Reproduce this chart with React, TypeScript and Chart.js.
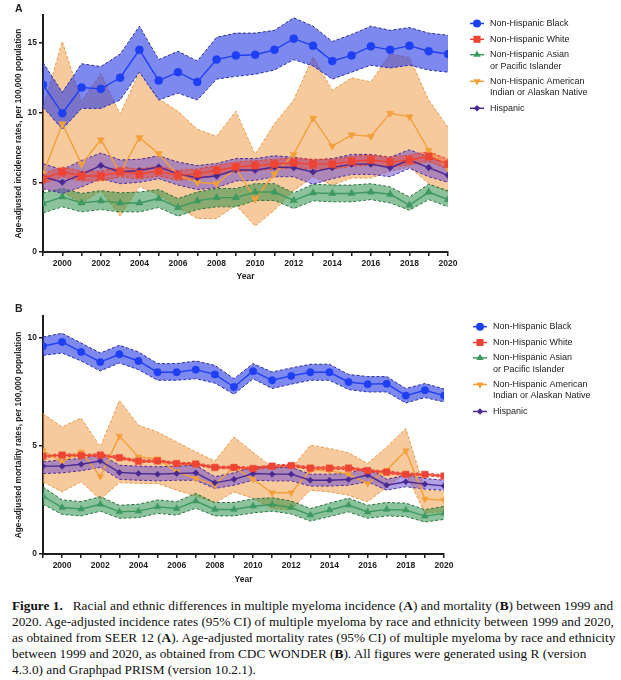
import React, { useEffect, useRef } from "react";
import { Chart, registerables } from "chart.js";

Chart.register(...registerables);

// ---------- data ----------
const YEARS = [1999, 2000, 2001, 2002, 2003, 2004, 2005, 2006, 2007, 2008, 2009, 2010, 2011, 2012, 2013, 2014, 2015, 2016, 2017, 2018, 2019, 2020];

const GROUPS = [
  "Non-Hispanic Black",
  "Non-Hispanic White",
  "Non-Hispanic Asian\nor Pacific Islander",
  "Non-Hispanic American\nIndian or Alaskan Native",
  "Hispanic",
];

// Panel A: incidence
const A_BLACK = [12.0, 9.95, 11.8, 11.7, 12.5, 14.5, 12.3, 12.9, 12.2, 13.8, 14.1, 14.15, 14.5, 15.3, 14.8, 13.7, 14.1, 14.75, 14.5, 14.8, 14.4, 14.2];
const A_BLACK_HI = [13.6, 11.45, 13.5, 13.3, 14.2, 16.2, 13.8, 14.4, 13.7, 15.4, 15.7, 15.7, 15.9, 16.8, 16.2, 15.1, 15.6, 16.2, 15.9, 16.1, 15.7, 15.55];
const A_BLACK_LO = [10.4, 8.8, 10.3, 10.3, 10.9, 12.9, 10.9, 11.4, 10.9, 12.4, 12.6, 12.75, 13.05, 13.8, 13.35, 12.4, 12.9, 13.4, 13.2, 13.4, 13.05, 12.9];

const A_WHITE = [5.25, 5.75, 5.45, 5.45, 5.75, 5.6, 5.8, 5.5, 5.6, 5.85, 6.1, 6.2, 6.3, 6.4, 6.3, 6.3, 6.5, 6.6, 6.45, 6.6, 6.85, 6.3];
const A_WHITE_HI = [5.6, 6.1, 5.8, 5.8, 6.1, 5.95, 6.15, 5.85, 5.95, 6.2, 6.45, 6.55, 6.65, 6.75, 6.65, 6.65, 6.85, 6.95, 6.8, 6.95, 7.2, 6.65];
const A_WHITE_LO = [4.9, 5.4, 5.1, 5.1, 5.4, 5.25, 5.45, 5.15, 5.25, 5.5, 5.75, 5.85, 5.95, 6.05, 5.95, 5.95, 6.15, 6.25, 6.1, 6.25, 6.5, 5.95];

const A_ASIAN = [3.48, 3.95, 3.52, 3.67, 3.52, 3.52, 3.83, 3.19, 3.67, 3.9, 3.9, 4.3, 4.3, 3.7, 4.24, 4.2, 4.2, 4.3, 4.14, 3.36, 4.3, 3.76];
const A_ASIAN_HI = [4.24, 4.55, 4.2, 4.4, 4.24, 4.3, 4.48, 3.83, 4.3, 4.55, 4.55, 4.9, 4.9, 4.24, 4.86, 4.8, 4.8, 4.9, 4.67, 3.95, 4.86, 4.4];
const A_ASIAN_LO = [2.8, 3.24, 2.88, 3.05, 2.88, 2.88, 3.19, 2.57, 3.05, 3.24, 3.24, 3.7, 3.7, 3.12, 3.67, 3.6, 3.6, 3.76, 3.52, 3.0, 3.76, 3.24];

const A_AIAN = [5.6, 9.2, 6.3, 8.05, 5.7, 8.2, 7.05, 5.5, 5.0, 4.9, 6.0, 3.8, 5.6, 7.0, 9.6, 7.6, 8.4, 8.3, 9.95, 9.7, 7.3, 6.0];
const A_AIAN_HI = [10.3, 15.1, 10.8, 12.8, 9.9, 12.9, 11.0, 10.1, 8.8, 8.3, 10.1, 7.0, 9.2, 10.9, 14.0, 11.6, 12.5, 12.2, 14.2, 13.95, 10.9, 8.95];
const A_AIAN_LO = [4.5, 4.3, 3.5, 4.4, 2.57, 4.7, 4.1, 3.2, 2.4, 2.4, 3.35, 1.86, 3.0, 4.4, 5.4, 4.8, 5.3, 5.3, 5.8, 6.1, 4.9, 4.3];

const A_HISP = [5.4, 5.0, 5.57, 6.2, 5.74, 5.85, 6.1, 5.6, 5.33, 5.45, 5.9, 5.86, 6.1, 6.05, 5.74, 6.05, 6.3, 6.3, 6.05, 6.6, 6.05, 5.5];
const A_HISP_HI = [6.33, 5.9, 6.57, 7.1, 6.6, 6.65, 6.9, 6.45, 6.2, 6.35, 6.7, 6.7, 6.9, 6.8, 6.6, 6.7, 7.0, 7.0, 6.8, 7.33, 6.8, 6.3];
const A_HISP_LO = [4.55, 4.2, 4.67, 5.26, 4.9, 5.0, 5.26, 4.8, 4.48, 4.6, 5.1, 5.14, 5.4, 5.4, 4.86, 5.26, 5.57, 5.57, 5.4, 6.0, 5.4, 5.0];

// Panel B: mortality
const B_BLACK = [9.6, 9.8, 9.34, 8.87, 9.23, 8.92, 8.4, 8.4, 8.52, 8.3, 7.72, 8.45, 8.03, 8.23, 8.4, 8.4, 7.95, 7.85, 7.87, 7.32, 7.57, 7.32];
const B_BLACK_HI = [10.03, 10.2, 9.75, 9.29, 9.65, 9.34, 8.8, 8.8, 8.92, 8.72, 8.1, 8.8, 8.41, 8.6, 8.77, 8.77, 8.3, 8.2, 8.2, 7.65, 7.88, 7.63];
const B_BLACK_LO = [9.18, 9.29, 8.92, 8.46, 8.83, 8.52, 8.03, 8.03, 8.1, 7.9, 7.38, 8.1, 7.65, 7.85, 8.03, 8.03, 7.6, 7.49, 7.49, 6.98, 7.23, 7.03];

const B_WHITE = [4.52, 4.57, 4.55, 4.57, 4.45, 4.29, 4.3, 4.18, 4.16, 4.0, 4.0, 3.95, 4.06, 4.09, 3.97, 3.97, 3.97, 3.85, 3.78, 3.68, 3.68, 3.6];
const B_WHITE_HI = [4.58, 4.63, 4.61, 4.63, 4.51, 4.35, 4.36, 4.24, 4.22, 4.06, 4.06, 4.01, 4.12, 4.15, 4.03, 4.03, 4.03, 3.91, 3.84, 3.74, 3.74, 3.66];
const B_WHITE_LO = [4.46, 4.51, 4.49, 4.51, 4.39, 4.23, 4.24, 4.12, 4.1, 3.94, 3.94, 3.89, 4.0, 4.03, 3.91, 3.91, 3.91, 3.79, 3.72, 3.62, 3.62, 3.54];

const B_ASIAN = [2.68, 2.15, 2.08, 2.3, 1.95, 1.98, 2.18, 2.1, 2.45, 2.06, 2.06, 2.21, 2.29, 2.15, 1.8, 2.03, 2.26, 1.94, 2.06, 2.03, 1.75, 1.88];
const B_ASIAN_HI = [3.1, 2.5, 2.42, 2.65, 2.25, 2.3, 2.5, 2.42, 2.8, 2.38, 2.38, 2.55, 2.6, 2.45, 2.1, 2.35, 2.58, 2.25, 2.38, 2.35, 2.05, 2.2];
const B_ASIAN_LO = [2.3, 1.83, 1.76, 1.98, 1.65, 1.68, 1.88, 1.8, 2.12, 1.76, 1.76, 1.9, 1.98, 1.85, 1.52, 1.73, 1.95, 1.65, 1.76, 1.73, 1.48, 1.6];

const B_AIAN = [4.77, 4.26, 4.72, 3.57, 5.45, 4.49, 4.4, 3.8, 3.49, 3.2, 4.03, 3.45, 2.83, 2.83, 3.88, 3.85, 3.69, 3.26, 3.88, 4.77, 2.54, 2.49];
const B_AIAN_HI = [6.49, 5.87, 6.29, 4.95, 7.1, 5.95, 5.64, 5.18, 4.72, 4.3, 5.41, 4.7, 4.0, 3.95, 5.03, 4.88, 4.68, 4.18, 4.95, 5.8, 2.95, 2.9];
const B_AIAN_LO = [3.34, 2.87, 3.34, 2.52, 3.3, 3.26, 3.26, 2.95, 2.68, 2.37, 2.87, 2.57, 2.1, 2.05, 2.95, 2.87, 2.72, 2.41, 3.1, 3.72, 1.9, 1.95];

const B_HISP = [4.06, 4.06, 4.15, 4.3, 3.77, 3.72, 3.69, 3.72, 3.75, 3.29, 3.45, 3.72, 3.69, 3.69, 3.41, 3.41, 3.44, 3.65, 3.18, 3.34, 3.23, 3.15];
const B_HISP_HI = [4.26, 4.35, 4.41, 4.61, 4.1, 4.06, 4.03, 4.06, 4.1, 3.57, 3.75, 4.03, 4.0, 4.0, 3.69, 3.69, 3.72, 4.0, 3.45, 3.65, 3.49, 3.41];
const B_HISP_LO = [3.72, 3.75, 3.85, 4.0, 3.45, 3.41, 3.38, 3.41, 3.41, 3.03, 3.18, 3.41, 3.38, 3.38, 3.14, 3.14, 3.18, 3.34, 2.95, 3.11, 3.0, 2.95];

const A_Y_TICKS = [0, 5, 10, 15];
const B_Y_TICKS = [0, 5, 10];

// ---------- styles ----------
const FONT = "'Liberation Sans', Arial, sans-serif";
const INK = "#1e1e1e";

type Style = { color: string; band: string; dash: string; point: string; rotation: number; r: number };
const STYLES: Style[] = [
  { color: "#1f3ff2", band: "rgba(38,58,228,0.6)", dash: "#2c2a9a", point: "circle", rotation: 0, r: 4 },
  { color: "#ee4433", band: "rgba(238,70,50,0.45)", dash: "#e04030", point: "rect", rotation: 0, r: 5 },
  { color: "#3d9960", band: "rgba(45,145,75,0.55)", dash: "#2d6e40", point: "triangle", rotation: 0, r: 4.2 },
  { color: "#f2a03c", band: "rgba(240,150,60,0.5)", dash: "#e89a48", point: "triangle", rotation: 180, r: 4.2 },
  { color: "#4a2891", band: "rgba(100,70,210,0.5)", dash: "#4a2891", point: "rectRot", rotation: 0, r: 3.3 },
];

type Series = { mean: number[]; hi: number[]; lo: number[] };

function pts(arr: number[]) {
  return arr.map((v, i) => ({ x: YEARS[i], y: v }));
}

function drawMarker(ctx: CanvasRenderingContext2D, st: Style, x: number, y: number) {
  const r = st.r;
  ctx.fillStyle = st.color;
  ctx.beginPath();
  if (st.point === "circle") {
    ctx.arc(x, y, r, 0, Math.PI * 2);
  } else if (st.point === "rect") {
    const s = r * Math.SQRT1_2;
    ctx.rect(x - s, y - s, 2 * s, 2 * s);
  } else if (st.point === "triangle") {
    const dir = st.rotation === 180 ? -1 : 1;
    const h = r;
    ctx.moveTo(x, y - dir * h);
    ctx.lineTo(x + h * 0.866, y + dir * h * 0.5);
    ctx.lineTo(x - h * 0.866, y + dir * h * 0.5);
    ctx.closePath();
  } else {
    ctx.moveTo(x - r, y);
    ctx.lineTo(x, y - r);
    ctx.lineTo(x + r, y);
    ctx.lineTo(x, y + r);
    ctx.closePath();
  }
  ctx.fill();
}

function legendPlugin(lx: number, top: number) {
  const rows = [0, 15.8, 31.2, 57.8, 84.8];
  return {
    id: "customLegend",
    afterDraw(chart: any) {
      const ctx: CanvasRenderingContext2D = chart.ctx;
      ctx.save();
      ctx.font = `9px ${FONT}`;
      ctx.textBaseline = "middle";
      ctx.textAlign = "left";
      GROUPS.forEach((label, i) => {
        const st = STYLES[i];
        const y = top + rows[i];
        ctx.strokeStyle = st.color;
        ctx.lineWidth = 1.5;
        ctx.beginPath();
        ctx.moveTo(lx, y);
        ctx.lineTo(lx + 14, y);
        ctx.stroke();
        drawMarker(ctx, st, lx + 7, y);
        ctx.fillStyle = "#222";
        label.split("\n").forEach((line, k) => {
          ctx.fillText(line, lx + 20, y + k * 11.5);
        });
      });
      ctx.restore();
    },
  };
}

function buildConfig(series: Series[], opts: { yMax: number; yTicks: number[]; yTitle: string; pad: any; xHeight: number; legendX: number; legendTop: number; scale: number }) {
  const meanOrder = [1, 0, 2, 4, 3]; // index into series: White drawn on top
  const datasets: any[] = [];
  meanOrder.forEach((gi) => {
    const st = STYLES[gi];
    datasets.push({
      data: pts(series[gi].mean),
      borderColor: st.color,
      backgroundColor: st.color,
      borderWidth: 1.4,
      pointStyle: st.point,
      rotation: st.rotation,
      pointRadius: st.r * opts.scale,
      pointBorderWidth: 0.5,
      pointBackgroundColor: st.color,
      pointBorderColor: st.color,
      fill: false,
      tension: 0,
    });
  });
  const bandOrder = [0, 1, 4, 2, 3]; // Black band on top, AIAN band at the bottom
  bandOrder.forEach((gi) => {
    const st = STYLES[gi];
    datasets.push({
      data: pts(series[gi].hi),
      borderColor: st.dash,
      borderWidth: 1,
      borderDash: [3, 2],
      pointRadius: 0,
      backgroundColor: st.band,
      fill: "+1",
      tension: 0,
    });
    datasets.push({
      data: pts(series[gi].lo),
      borderColor: st.dash,
      borderWidth: 1,
      borderDash: [3, 2],
      pointRadius: 0,
      fill: false,
      tension: 0,
    });
  });

  const tickFont = { family: FONT, size: 8.5, weight: "bold" as const };
  return {
    type: "line" as const,
    data: { datasets },
    options: {
      animation: false as const,
      responsive: false,
      devicePixelRatio: 1,
      layout: { padding: opts.pad },
      plugins: { legend: { display: false }, tooltip: { enabled: false }, title: { display: false } },
      scales: {
        x: {
          type: "linear" as const,
          min: 1999,
          max: 2020,
          offset: false,
          afterBuildTicks: (s: any) => {
            s.ticks = YEARS.map((v) => ({ value: v }));
          },
          afterFit: (s: any) => {
            s.height = opts.xHeight;
          },
          ticks: {
            autoSkip: false,
            maxRotation: 0,
            minRotation: 0,
            padding: 3,
            color: INK,
            font: tickFont,
            callback: (v: any) => (Number(v) % 2 === 0 ? String(v) : ""),
          },
          grid: { drawOnChartArea: false, drawTicks: true, tickLength: 4, color: INK, lineWidth: 1.5 },
          border: { display: true, color: INK, width: 2 },
          title: { display: true, text: "Year", color: INK, font: { family: FONT, size: 8.5, weight: "bold" as const }, padding: { top: 0, bottom: 3 } },
        },
        y: {
          min: 0,
          max: opts.yMax,
          afterBuildTicks: (s: any) => {
            s.ticks = opts.yTicks.map((v) => ({ value: v }));
          },
          afterFit: (s: any) => {
            s.width = 43;
          },
          ticks: { padding: 2, color: INK, font: tickFont },
          grid: { drawOnChartArea: false, drawTicks: true, tickLength: 4, color: INK, lineWidth: 1.5 },
          border: { display: true, color: INK, width: 2 },
          title: { display: true, text: opts.yTitle, color: INK, font: { family: FONT, size: 8.3, weight: "bold" as const }, padding: { top: 14, bottom: 0 } },
        },
      },
    },
    plugins: [legendPlugin(opts.legendX, opts.legendTop)],
  };
}

const SERIES_A: Series[] = [
  { mean: A_BLACK, hi: A_BLACK_HI, lo: A_BLACK_LO },
  { mean: A_WHITE, hi: A_WHITE_HI, lo: A_WHITE_LO },
  { mean: A_ASIAN, hi: A_ASIAN_HI, lo: A_ASIAN_LO },
  { mean: A_AIAN, hi: A_AIAN_HI, lo: A_AIAN_LO },
  { mean: A_HISP, hi: A_HISP_HI, lo: A_HISP_LO },
];
const SERIES_B: Series[] = [
  { mean: B_BLACK, hi: B_BLACK_HI, lo: B_BLACK_LO },
  { mean: B_WHITE, hi: B_WHITE_HI, lo: B_WHITE_LO },
  { mean: B_ASIAN, hi: B_ASIAN_HI, lo: B_ASIAN_LO },
  { mean: B_AIAN, hi: B_AIAN_HI, lo: B_AIAN_LO },
  { mean: B_HISP, hi: B_HISP_HI, lo: B_HISP_LO },
];

function Panel(props: { top: number; height: number; letter: string; config: any }) {
  const ref = useRef<HTMLCanvasElement | null>(null);
  useEffect(() => {
    if (!ref.current) return;
    const chart = new Chart(ref.current, props.config);
    return () => chart.destroy();
  }, []);
  return (
    <div style={{ position: "absolute", left: 0, top: props.top, width: 621, height: props.height }}>
      <canvas ref={ref} width={621} height={props.height} style={{ width: 621, height: props.height, display: "block" }} />
      <div style={{ position: "absolute", left: 15, top: 2, font: `bold 10.5px ${FONT}`, color: INK }}>{props.letter}</div>
    </div>
  );
}

export default function App() {
  const cfgA = buildConfig(SERIES_A, {
    yMax: 17,
    yTicks: A_Y_TICKS,
    yTitle: "Age-adjusted incidence rates, per 100,000 population",
    pad: { top: 15, right: 173, bottom: 0, left: 0 },
    xHeight: 33,
    legendX: 470,
    legendTop: 23.5,
    scale: 1,
  });
  const cfgB = buildConfig(SERIES_B, {
    yMax: 11,
    yTicks: B_Y_TICKS,
    yTitle: "Age-adjusted mortality rates, per 100,000 population",
    pad: { top: 16, right: 177, bottom: 0, left: 0 },
    xHeight: 34,
    legendX: 473,
    legendTop: 26.7,
    scale: 0.92,
  });
  return (
    <div style={{ position: "fixed", left: 0, top: 0, width: 621, height: 680, background: "#fff", overflow: "hidden" }}>
      <Panel top={0} height={285} letter="A" config={cfgA} />
      <Panel top={300} height={288} letter="B" config={cfgB} />
      <div
        style={{
          position: "absolute",
          left: 12,
          top: 597.5,
          fontFamily: "'Liberation Serif', 'Times New Roman', serif",
          fontSize: 13.3,
          lineHeight: "16px",
          color: "#111",
          whiteSpace: "nowrap",
        }}
      >
        <b>Figure 1.</b>&nbsp;&nbsp; Racial and ethnic differences in multiple myeloma incidence (<b>A</b>) and mortality (<b>B</b>) between 1999 and
        <br />
        2020. Age-adjusted incidence rates (95% CI) of multiple myeloma by race and ethnicity between 1999 and 2020,
        <br />
        as obtained from SEER 12 (<b>A</b>). Age-adjusted mortality rates (95% CI) of multiple myeloma by race and ethnicity
        <br />
        between 1999 and 2020, as obtained from CDC WONDER (<b>B</b>). All figures were generated using R (version
        <br />
        4.3.0) and Graphpad PRISM (version 10.2.1).
      </div>
    </div>
  );
}
